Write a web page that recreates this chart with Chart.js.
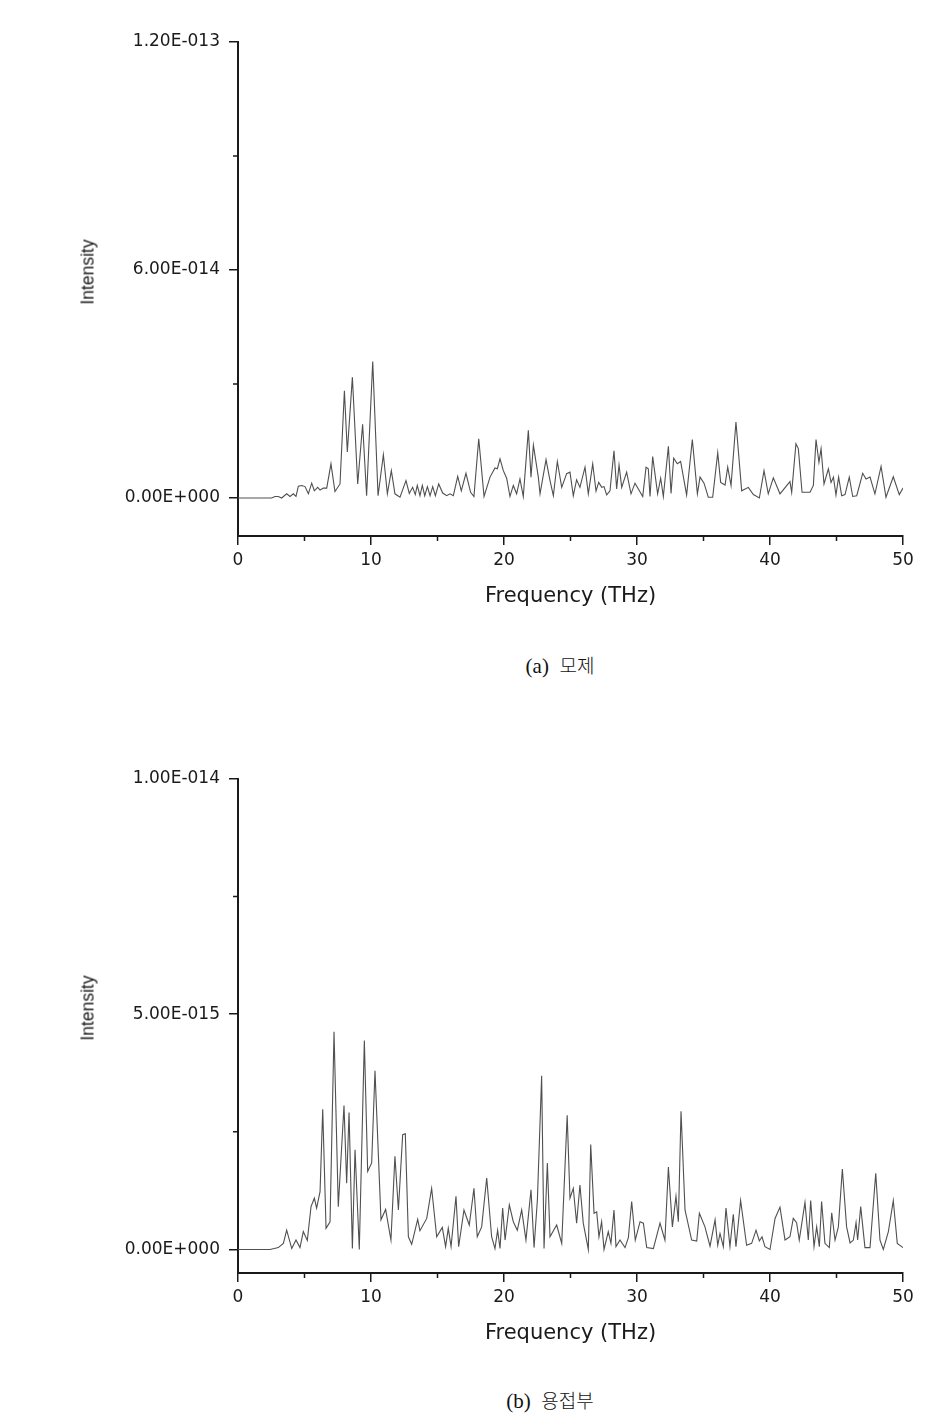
<!DOCTYPE html>
<html>
<head>
<meta charset="utf-8">
<script src="https://cdn.jsdelivr.net/npm/chart.js@4.4.1/dist/chart.umd.min.js"></script>
<style>
  html, body { margin: 0; padding: 0; background: #fff; }
  body { width: 948px; height: 1426px; position: relative; overflow: hidden; }
  canvas { position: absolute; left: 0; }
  #chartA { top: 0; }
  #chartB { top: 720px; }
  .ytitle {
    position: absolute; font-family: "Liberation Sans", Arial, sans-serif; font-size: 17.5px; color: #1a1a1a;
    transform: translate(-50%, -50%) rotate(-90deg); white-space: nowrap;
  }
  .caption {
    position: absolute; font-family: "Liberation Serif", "Noto Sans CJK KR", serif; font-size: 21px; color: #111;
    transform: translate(-50%, -50%); white-space: pre;
  }
  .caption .ko { font-family: "Noto Sans CJK KR", sans-serif; font-size: 19px; font-weight: 300; }
</style>
</head>
<body>
<canvas id="chartA" width="948" height="630"></canvas>
<canvas id="chartB" width="948" height="640"></canvas>
<div class="ytitle" style="left:88px; top:272px;">Intensity</div>
<div class="ytitle" style="left:88px; top:1008px;">Intensity</div>
<div class="caption" style="left:560px; top:665px;">(a)  <span class="ko">모제</span></div>
<div class="caption" style="left:550px; top:1400px;">(b)  <span class="ko">용접부</span></div>
<script>
// x axis (THz), shared
var xTicks = [0, 10, 20, 30, 40, 50];
var xMinor = [5, 15, 25, 35, 45];

// (a) 모제 — intensity in units of 1E-14
var yTicksA = [0, 6, 12];
var yLabelsA = ['0.00E+000', '6.00E-014', '1.20E-013'];
var yMinorA = [3, 9];
var freqA = [
  0, 2.53, 2.78, 3.03, 3.28, 3.66, 3.91, 4.16, 4.36, 4.54,
  4.79, 5.04, 5.29, 5.54, 5.74, 5.99, 6.17, 6.42, 6.67, 6.99,
  7.29, 7.67, 8.0, 8.22, 8.6, 9.0, 9.37, 9.67, 10.13, 10.53,
  10.93, 11.23, 11.53, 11.8, 12.18, 12.63, 12.88, 13.13, 13.33, 13.48,
  13.68, 13.86, 14.04, 14.24, 14.44, 14.64, 14.84, 15.09, 15.39, 15.69,
  15.94, 16.19, 16.52, 16.79, 17.14, 17.49, 17.74, 18.1, 18.5, 18.95,
  19.32, 19.5, 19.7, 19.95, 20.2, 20.45, 20.7, 20.95, 21.2, 21.45,
  21.83, 22.03, 22.21, 22.58, 22.71, 23.16, 23.46, 23.71, 24.01, 24.34,
  24.71, 24.96, 25.21, 25.46, 25.71, 26.09, 26.34, 26.67, 26.92, 27.12,
  27.35, 27.52, 27.72, 27.97, 28.27, 28.47, 28.65, 28.85, 29.22, 29.55,
  29.85, 30.43, 30.68, 30.85, 30.98, 31.18, 31.55, 31.78, 31.98, 32.36,
  32.56, 32.76, 33.03, 33.28, 33.73, 34.16, 34.54, 34.74, 35.04, 35.36,
  35.69, 36.07, 36.29, 36.62, 36.82, 37.07, 37.44, 37.87, 38.37, 38.75,
  39.2, 39.55, 39.87, 40.25, 40.75, 41.5, 41.63, 41.95, 42.13, 42.41,
  43.01, 43.26, 43.46, 43.68, 43.84, 44.06, 44.39, 44.59, 44.77, 44.96,
  45.16, 45.39, 45.64, 45.96, 46.22, 46.52, 46.97, 47.22, 47.52, 47.89,
  48.35, 48.72, 49.27, 49.72, 50.0
];
var intensityA = [
  0, 0, 0.04, 0.04, 0, 0.11, 0.04, 0.11, 0.04, 0.31,
  0.33, 0.30, 0.11, 0.39, 0.19, 0.28, 0.21, 0.26, 0.26, 0.90,
  0.17, 0.37, 2.82, 1.21, 3.18, 0.37, 1.94, 0.06, 3.59, 0.06,
  1.14, 0.11, 0.72, 0.11, 0.02, 0.46, 0.12, 0.28, 0.09, 0.33,
  0.06, 0.33, 0.06, 0.30, 0.06, 0.30, 0.06, 0.37, 0.13, 0.06,
  0.11, 0.06, 0.57, 0.19, 0.65, 0.15, 0.04, 1.56, 0.04, 0.55,
  0.79, 0.77, 1.03, 0.72, 0.52, 0.04, 0.33, 0.11, 0.50, 0.04,
  1.78, 0.55, 1.39, 0.55, 0.11, 1.01, 0.46, 0.06, 0.96, 0.28,
  0.64, 0.68, 0.06, 0.48, 0.28, 0.81, 0.11, 0.90, 0.18, 0.41,
  0.28, 0.30, 0.08, 0.19, 1.24, 0.24, 0.87, 0.28, 0.68, 0.11,
  0.39, 0.04, 0.81, 0.77, 0.04, 1.09, 0.11, 0.52, 0.04, 1.36,
  0.12, 1.05, 0.90, 0.96, 0.08, 1.54, 0.11, 0.55, 0.39, 0.02,
  0.02, 1.19, 0.41, 0.34, 0.81, 0.33, 2.0, 0.19, 0.28, 0.09,
  0, 0.72, 0.11, 0.53, 0.11, 0.43, 0.15, 1.43, 1.30, 0.15,
  0.15, 0.33, 1.54, 0.94, 1.30, 0.37, 0.77, 0.41, 0.55, 0.08,
  0.55, 0.06, 0.09, 0.55, 0.04, 0.06, 0.65, 0.50, 0.55, 0.11,
  0.83, 0.02, 0.56, 0.09, 0.26
];

// (b) 용접부 — intensity in units of 1E-15
var yTicksB = [0, 5, 10];
var yLabelsB = ['0.00E+000', '5.00E-015', '1.00E-014'];
var yMinorB = [2.5, 7.5];
var freqB = [
  0, 2.41, 3.03, 3.41, 3.66, 4.04, 4.36, 4.66, 4.91, 5.21,
  5.49, 5.74, 5.91, 6.17, 6.37, 6.62, 6.92, 7.22, 7.54, 7.97,
  8.17, 8.35, 8.6, 8.8, 9.12, 9.5, 9.75, 10.05, 10.3, 10.75,
  11.1, 11.5, 11.8, 12.06, 12.38, 12.58, 12.81, 13.06, 13.51, 13.68,
  14.19, 14.56, 14.94, 15.36, 15.61, 15.81, 16.02, 16.39, 16.59, 16.99,
  17.39, 17.74, 17.99, 18.32, 18.7, 19.07, 19.32, 19.52, 19.7, 19.9,
  20.08, 20.4, 20.7, 21.0, 21.33, 21.65, 22.03, 22.26, 22.51, 22.83,
  23.01, 23.26, 23.46, 23.96, 24.34, 24.75, 24.96, 25.21, 25.46, 25.71,
  25.96, 26.34, 26.52, 26.77, 26.97, 27.14, 27.34, 27.52, 27.84, 28.04,
  28.27, 28.42, 28.72, 29.1, 29.35, 29.6, 29.87, 30.23, 30.48, 30.73,
  31.23, 31.73, 32.1, 32.36, 32.66, 32.93, 33.11, 33.31, 33.61, 34.11,
  34.49, 34.69, 35.11, 35.49, 35.87, 36.07, 36.24, 36.49, 36.69, 36.99,
  37.24, 37.44, 37.79, 38.24, 38.62, 38.95, 39.2, 39.4, 39.62, 40.0,
  40.38, 40.75, 41.13, 41.5, 41.75, 42.0, 42.2, 42.63, 42.88, 43.06,
  43.31, 43.51, 43.71, 43.88, 44.13, 44.46, 44.64, 44.89, 45.14, 45.44,
  45.76, 46.02, 46.27, 46.47, 46.59, 46.82, 47.14, 47.52, 47.95, 48.27,
  48.52, 48.9, 49.27, 49.57, 50.0
];
var intensityB = [
  0, 0, 0.04, 0.13, 0.41, 0.02, 0.20, 0.04, 0.38, 0.19,
  0.91, 1.09, 0.88, 1.23, 2.98, 0.45, 0.59, 4.63, 0.91, 3.06,
  1.41, 2.91, 0.02, 2.12, 0, 4.44, 1.66, 1.84, 3.80, 0.63,
  0.85, 0.20, 1.98, 0.84, 2.44, 2.46, 0.27, 0.11, 0.64, 0.40,
  0.66, 1.30, 0.27, 0.47, 0.06, 0.45, 0.06, 1.13, 0.06, 0.84,
  0.52, 1.30, 0.27, 0.48, 1.52, 0.27, 0.02, 0.41, 0.02, 0.88,
  0.20, 0.95, 0.59, 0.41, 0.84, 0.20, 1.27, 0.04, 1.05, 3.69,
  0.02, 1.84, 0.27, 0.52, 0.13, 2.85, 1.09, 1.30, 0.56, 1.37,
  0.56, 0, 2.23, 0.77, 0.80, 0.27, 0.59, 0, 0.38, 0.13,
  0.84, 0.06, 0.20, 0.04, 0.25, 1.02, 0.20, 0.59, 0.56, 0.04,
  0.02, 0.56, 0.20, 1.75, 0.48, 1.13, 0.59, 2.94, 0.84, 0.20,
  0.18, 0.77, 0.48, 0.07, 0.63, 0.09, 0.34, 0.06, 0.88, 0.06,
  0.75, 0.06, 1.04, 0.09, 0.13, 0.41, 0.18, 0.27, 0.06, 0,
  0.66, 0.90, 0.20, 0.27, 0.66, 0.57, 0.20, 1.0, 0.20, 1.04,
  0.06, 0.48, 0.06, 1.02, 0.13, 0.04, 0.78, 0.20, 0.48, 1.71,
  0.48, 0.14, 0.20, 0.57, 0.20, 0.91, 0.04, 0.04, 1.62, 0.20,
  0, 0.38, 1.04, 0.13, 0.04
];

var INK = '#1a1a1a';
var TICK_FONT = { family: '"DejaVu Sans", sans-serif', size: 17 };

// minor tick marks, drawn at scale positions
var minorTicks = {
  id: 'minorTicks',
  afterDraw: function (chart, args, opts) {
    var ctx = chart.ctx, area = chart.chartArea;
    var xs = chart.scales.x, ys = chart.scales.y;
    ctx.save();
    ctx.strokeStyle = INK;
    ctx.lineWidth = 1.5;
    ctx.beginPath();
    (opts.x || []).forEach(function (v) {
      var px = xs.getPixelForValue(v);
      ctx.moveTo(px, area.bottom);
      ctx.lineTo(px, area.bottom + 5);
    });
    (opts.y || []).forEach(function (v) {
      var py = ys.getPixelForValue(v);
      ctx.moveTo(area.left, py);
      ctx.lineTo(area.left - 5, py);
    });
    ctx.stroke();
    ctx.restore();
  }
};

function makeChart(id, freq, vals, yMin, yMax, yTicks, yLabels, yMinor, padTop, padBottom) {
  var pts = freq.map(function (f, i) { return { x: f, y: vals[i] }; });
  return new Chart(document.getElementById(id), {
    type: 'line',
    data: {
      datasets: [{
        data: pts,
        borderColor: '#505050',
        borderWidth: 1.1,
        pointRadius: 0,
        tension: 0,
        fill: false
      }]
    },
    plugins: [minorTicks],
    options: {
      responsive: false,
      animation: false,
      events: [],
      layout: { padding: { top: padTop, right: 45, bottom: padBottom, left: 0 } },
      plugins: {
        legend: { display: false },
        tooltip: { enabled: false },
        minorTicks: { x: xMinor, y: yMinor }
      },
      scales: {
        x: {
          type: 'linear',
          min: 0,
          max: 50,
          afterBuildTicks: function (s) { s.ticks = xTicks.map(function (v) { return { value: v }; }); },
          afterFit: function (s) { s.height = 75; },
          ticks: { color: INK, font: TICK_FONT, padding: 5, maxRotation: 0, autoSkip: false,
                   callback: function (v) { return String(v); } },
          grid: { drawOnChartArea: false, drawTicks: true, tickLength: 9, color: INK, lineWidth: 1.5 },
          border: { display: true, color: INK, width: 2 },
          title: { display: true, text: 'Frequency (THz)', color: INK,
                   font: { family: '"DejaVu Sans", sans-serif', size: 21 }, padding: { top: 0, bottom: 2 } }
        },
        y: {
          type: 'linear',
          min: yMin,
          max: yMax,
          afterBuildTicks: function (s) { s.ticks = yTicks.map(function (v) { return { value: v }; }); },
          afterFit: function (s) { s.width = 238; },
          ticks: { color: INK, font: TICK_FONT, padding: 9, autoSkip: false,
                   callback: function (v, i) { return yLabels[i]; } },
          grid: { drawOnChartArea: false, drawTicks: true, tickLength: 9, color: INK, lineWidth: 1.5 },
          border: { display: true, color: INK, width: 2 }
        }
      }
    }
  });
}

makeChart('chartA', freqA, intensityA, -1, 12, yTicksA, yLabelsA, yMinorA, 42, 19);
makeChart('chartB', freqB, intensityB, -0.5, 10, yTicksB, yLabelsB, yMinorB, 59, 12);
</script>
</body>
</html>
